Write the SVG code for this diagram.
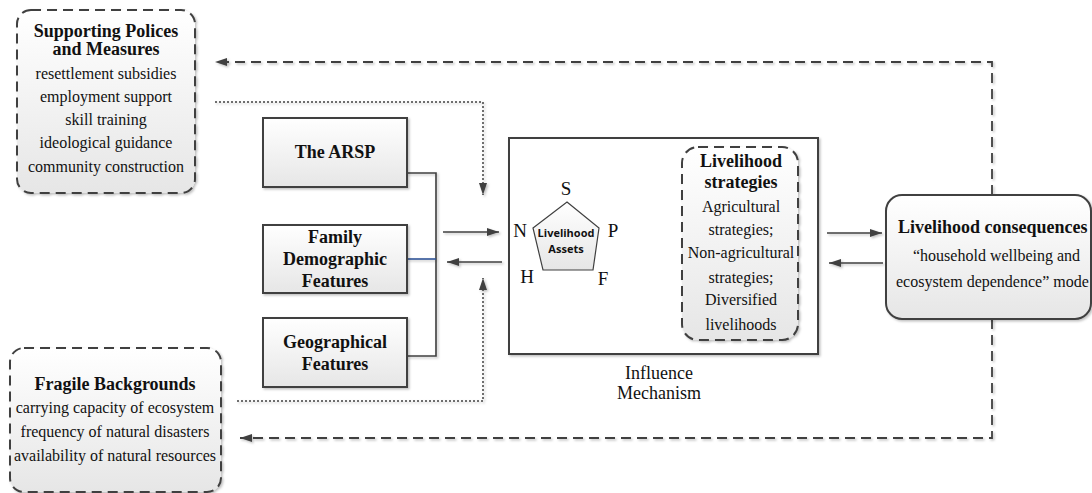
<svg xmlns="http://www.w3.org/2000/svg" width="1092" height="493" viewBox="0 0 1092 493">
  <style>
    text { font-family: 'Liberation Serif', 'DejaVu Serif', serif; fill: #111; }
    .title { font-size: 18px; font-weight: bold; text-anchor: middle; }
    .body { font-size: 16px; text-anchor: middle; }
    .letter { font-size: 19px; text-anchor: middle; }
    .sans { font-family: 'Open Sans', 'Noto Sans', sans-serif; font-size: 11px; font-weight: bold; text-anchor: middle; }
    .solidbox { fill: url(#boxfill); stroke: #404040; stroke-width: 2; }
    .dashbox { fill: url(#boxfill); stroke: #404040; stroke-width: 2; stroke-dasharray: 10 6; }
    .line { fill: none; stroke: #404040; stroke-width: 1.6; }
    .dashed { stroke-dasharray: 10 6; stroke-width: 1.8; }
    .dotted { stroke-dasharray: 2 2; stroke-width: 1.5; }
  </style>
  <defs>
    <linearGradient id="boxfill" x1="0" y1="0" x2="0" y2="1">
      <stop offset="0" stop-color="#ffffff"/>
      <stop offset="1" stop-color="#e6e6e6"/>
    </linearGradient>
    <filter id="shadow" x="-5%" y="-5%" width="115%" height="115%">
      <feDropShadow dx="1.5" dy="1.5" stdDeviation="1" flood-color="#000" flood-opacity="0.25"/>
    </filter>
    <marker id="arrow" viewBox="0 0 12 8" refX="12" refY="4" markerWidth="12" markerHeight="8" markerUnits="userSpaceOnUse" orient="auto">
      <path d="M0,0 L12,4 L0,8 z" fill="#404040"/>
    </marker>
  </defs>

  <rect width="1092" height="493" fill="#ffffff"/>

  <!-- connectors -->
  <g id="connectors" filter="url(#shadow)">
    <path class="line dashed" d="M992,195 V62 H215" marker-end="url(#arrow)"/>
    <path class="line dashed" d="M992,319 V438 H240" marker-end="url(#arrow)"/>
    <path class="line dotted" d="M215,102 H483 V195" marker-end="url(#arrow)"/>
    <path class="line dotted" d="M237,401 H483 V278" marker-end="url(#arrow)"/>
    <path class="line" d="M407,173 H436 V356 H407"/>
    <path d="M407,259 H436" fill="none" stroke="#2f5597" stroke-width="1.6"/>
    <path class="line" d="M443,232 H499" marker-end="url(#arrow)"/>
    <path class="line" d="M502,262 H447" marker-end="url(#arrow)"/>
    <path class="line" d="M617,232 H673" marker-end="url(#arrow)"/>
    <path class="line" d="M668,262 H613" marker-end="url(#arrow)"/>
    <path class="line" d="M827,233 H882" marker-end="url(#arrow)"/>
    <path class="line" d="M883,263 H829" marker-end="url(#arrow)"/>
  </g>

  <!-- supporting policies -->
  <g id="supporting">
    <rect class="dashbox" x="17" y="10" width="178" height="183" rx="14" filter="url(#shadow)"/>
    <text class="title" x="106" y="37">Supporting Polices</text>
    <text class="title" x="106" y="55">and Measures</text>
    <text class="body" x="106" y="79">resettlement subsidies</text>
    <text class="body" x="106" y="102">employment support</text>
    <text class="body" x="106" y="125">skill training</text>
    <text class="body" x="106" y="148">ideological guidance</text>
    <text class="body" x="106" y="172">community construction</text>
  </g>

  <!-- fragile backgrounds -->
  <g id="fragile">
    <rect class="dashbox" x="10" y="348" width="211" height="144" rx="14" filter="url(#shadow)"/>
    <text class="title" x="115" y="390">Fragile Backgrounds</text>
    <text class="body" x="115" y="413">carrying capacity of ecosystem</text>
    <text class="body" x="115" y="437">frequency of natural disasters</text>
    <text class="body" x="115" y="461">availability of natural resources</text>
  </g>

  <!-- driving factors -->
  <g id="arsp">
    <rect class="solidbox" x="263" y="118" width="144" height="69" filter="url(#shadow)"/>
    <text class="title" x="335" y="158">The ARSP</text>
  </g>
  <g id="family">
    <rect class="solidbox" x="263" y="225" width="144" height="68" filter="url(#shadow)"/>
    <text class="title" x="335" y="243">Family</text>
    <text class="title" x="335" y="265">Demographic</text>
    <text class="title" x="335" y="287">Features</text>
  </g>
  <g id="geographical">
    <rect class="solidbox" x="263" y="318" width="144" height="69" filter="url(#shadow)"/>
    <text class="title" x="335" y="348">Geographical</text>
    <text class="title" x="335" y="370">Features</text>
  </g>

  <!-- influence mechanism -->
  <g id="mechanism">
    <rect x="509" y="138" width="309" height="216" fill="#ffffff" stroke="#404040" stroke-width="2" filter="url(#shadow)"/>
    <text x="659" y="379" font-size="18" text-anchor="middle">Influence</text>
    <text x="659" y="399" font-size="18" text-anchor="middle">Mechanism</text>
  </g>

  <g id="assets">
    <polygon points="567,202 599,228 593,270 543,270 533,228" fill="url(#boxfill)" stroke="#404040" stroke-width="1.2"/>
    <text class="sans" x="566" y="237">Livelihood</text>
    <text class="sans" x="566" y="253">Assets</text>
    <text class="letter" x="566" y="195">S</text>
    <text class="letter" x="520" y="237">N</text>
    <text class="letter" x="613" y="237">P</text>
    <text class="letter" x="527" y="283">H</text>
    <text class="letter" x="603" y="285">F</text>
  </g>

  <g id="strategies">
    <rect class="dashbox" x="682" y="147" width="116" height="193" rx="16" filter="url(#shadow)"/>
    <text class="title" x="741" y="167">Livelihood</text>
    <text class="title" x="741" y="188">strategies</text>
    <text class="body" x="741" y="212">Agricultural</text>
    <text class="body" x="741" y="235">strategies;</text>
    <text class="body" x="741" y="258">Non-agricultural</text>
    <text class="body" x="741" y="283">strategies;</text>
    <text class="body" x="741" y="305">Diversified</text>
    <text class="body" x="741" y="330">livelihoods</text>
  </g>

  <g id="consequences">
    <rect class="solidbox" x="886" y="195" width="205" height="124" rx="16" filter="url(#shadow)"/>
    <text x="898" y="233" font-size="18" font-weight="bold">Livelihood consequences</text>
    <text x="913" y="261" font-size="16">“household wellbeing and</text>
    <text x="896" y="287" font-size="16">ecosystem dependence” mode</text>
  </g>
</svg>
